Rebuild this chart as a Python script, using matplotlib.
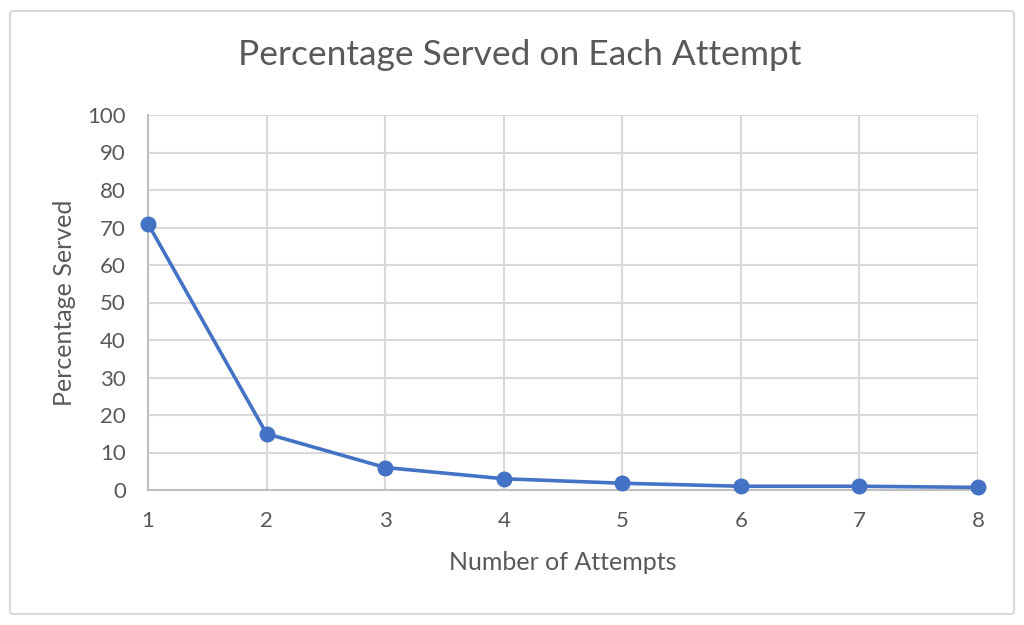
import matplotlib
matplotlib.use("Agg")
import matplotlib.pyplot as plt
from matplotlib.patches import FancyBboxPatch

attempts = [1, 2, 3, 4, 5, 6, 7, 8]
pct_served = [71, 15, 6, 3, 1.8, 1, 1, 0.7]
y_ticks = list(range(0, 101, 10))

text_color = "#595959"
grid_color = "#D9D9D9"
line_color = "#4472C4"

plt.rcParams["font.family"] = ["Lato", "DejaVu Sans"]

fig = plt.figure(figsize=(10.24, 6.25), dpi=100)
ax = fig.add_axes([148 / 1024, 1 - 490 / 625, (978 - 148) / 1024, (490 - 115) / 625])

# outer chart border
border = FancyBboxPatch((10 / 1024, 11 / 625), 1004 / 1024, 603 / 625,
                        boxstyle="round,pad=0,rounding_size=0.004",
                        transform=fig.transFigure, fill=False,
                        edgecolor=grid_color, linewidth=1.5)
fig.patches.append(border)

ax.plot(attempts, pct_served, color=line_color, linewidth=2.6,
        marker="o", markersize=10.5, zorder=3, clip_on=False)

ax.set_xlim(1, 8)
ax.set_ylim(0, 100)
ax.set_xticks(attempts)
ax.set_yticks(y_ticks)
ax.grid(True, color=grid_color, linewidth=1.5)
ax.set_axisbelow(True)
for side in ["top", "right"]:
    ax.spines[side].set_visible(False)
ax.spines["left"].set_color("#BFBFBF")
ax.spines["bottom"].set_color("#BFBFBF")
ax.spines["left"].set_linewidth(1.5)
ax.spines["bottom"].set_linewidth(1.5)
ax.tick_params(length=0, labelsize=16, colors=text_color)
ax.tick_params(axis="x", pad=15)
ax.tick_params(axis="y", pad=16)

ax.set_xlabel("Number of Attempts", fontsize=18, color=text_color, va="center")
ax.set_ylabel("Percentage Served", fontsize=18, color=text_color, va="center")
ax.xaxis.set_label_coords(0.5, (490 - 563) / 375)
ax.yaxis.set_label_coords((64 - 148) / 830, 0.5)
fig.text(520 / 1024, 1 - 55 / 625, "Percentage Served on Each Attempt", ha="center",
         va="center", fontsize=25.5, color=text_color)

fig.savefig("out.png", dpi=100)
